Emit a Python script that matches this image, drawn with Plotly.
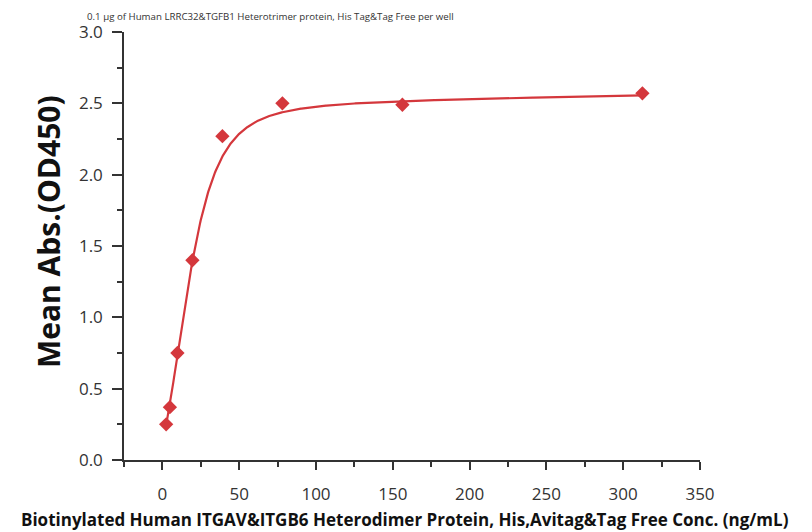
import numpy as np
import plotly.graph_objects as go

# Data
conc = [2.44, 4.88, 9.77, 19.53, 39.06, 78.13, 156.25, 312.5]
od450 = [0.25, 0.37, 0.75, 1.40, 2.27, 2.50, 2.49, 2.57]

title_text = "0.1 µg of Human LRRC32&TGFB1 Heterotrimer protein, His Tag&Tag Free per well"
x_title = "Biotinylated Human ITGAV&ITGB6 Heterodimer Protein, His,Avitag&Tag Free Conc. (ng/mL)"
y_title = "Mean Abs.(OD450)"
x_ticks = [0, 50, 100, 150, 200, 250, 300, 350]
y_ticks = [0.0, 0.5, 1.0, 1.5, 2.0, 2.5, 3.0]

# Fitted-curve parameters (5-parameter logistic with a small linear tail),
# estimated to match the reference's fitted line
fit_bottom = 0.1279
fit_range = 2.3670
fit_slope = 0.000202
fit_ec = 29.5
fit_hill = 2.7
fit_asym = 0.45

xf = np.linspace(min(conc), max(conc), 800)
yf = fit_bottom + fit_range * (1 + (fit_ec / xf) ** fit_hill) ** (-fit_asym) + fit_slope * xf

red = "#d4373c"
fig = go.Figure()
fig.add_trace(go.Scatter(x=xf, y=yf, mode="lines", line=dict(color=red, width=2.2),
                         hoverinfo="skip", showlegend=False))
fig.add_trace(go.Scatter(x=conc, y=od450, mode="markers",
                         marker=dict(symbol="diamond", size=11, color=red),
                         showlegend=False))

font_family = "'Open Sans', sans-serif"
axis_col = "#333333"
fig.update_layout(
    width=804, height=524,
    margin=dict(l=116, r=112, t=22, b=72),
    plot_bgcolor="white", paper_bgcolor="white",
    font=dict(family=font_family, color=axis_col),
    xaxis=dict(range=[-25, 350], tickvals=x_ticks, ticktext=[str(v) for v in x_ticks],
               showgrid=False, zeroline=False, showline=True, linecolor=axis_col, linewidth=1.5,
               ticks="outside", ticklen=8, tickwidth=1.5, tickcolor=axis_col,
               ticklabelstandoff=10,
               tickfont=dict(size=17, color=axis_col),
               minor=dict(dtick=25, tick0=0, ticks="outside", ticklen=5, tickwidth=1.5, tickcolor=axis_col)),
    yaxis=dict(range=[0, 3.0], tickvals=y_ticks, ticktext=[f"{v:.1f}" for v in y_ticks],
               showgrid=False, zeroline=False, showline=True, linecolor=axis_col, linewidth=1.5,
               ticks="outside", ticklen=10, tickwidth=1.5, tickcolor=axis_col,
               ticklabelstandoff=6,
               tickfont=dict(size=17, color=axis_col),
               minor=dict(dtick=0.25, tick0=0, ticks="outside", ticklen=5, tickwidth=1.5, tickcolor=axis_col)),
    annotations=[
        dict(text=title_text, xref="paper", yref="paper", x=0.2535, y=1.0,
             xanchor="center", yanchor="bottom", yshift=7, showarrow=False,
             font=dict(size=9.7, color=axis_col)),
        dict(text="<b>" + x_title + "</b>", xref="paper", yref="paper", x=0.488, y=0,
             xanchor="center", yanchor="middle", yshift=-59, showarrow=False,
             font=dict(size=17, color="#111111")),
        dict(text="<b>" + y_title + "</b>", xref="paper", yref="paper", x=0, y=0.5326,
             xanchor="center", yanchor="middle", xshift=-76, textangle=-90, showarrow=False,
             font=dict(size=30, color="#111111")),
    ],
)
fig.write_html("out.html")
